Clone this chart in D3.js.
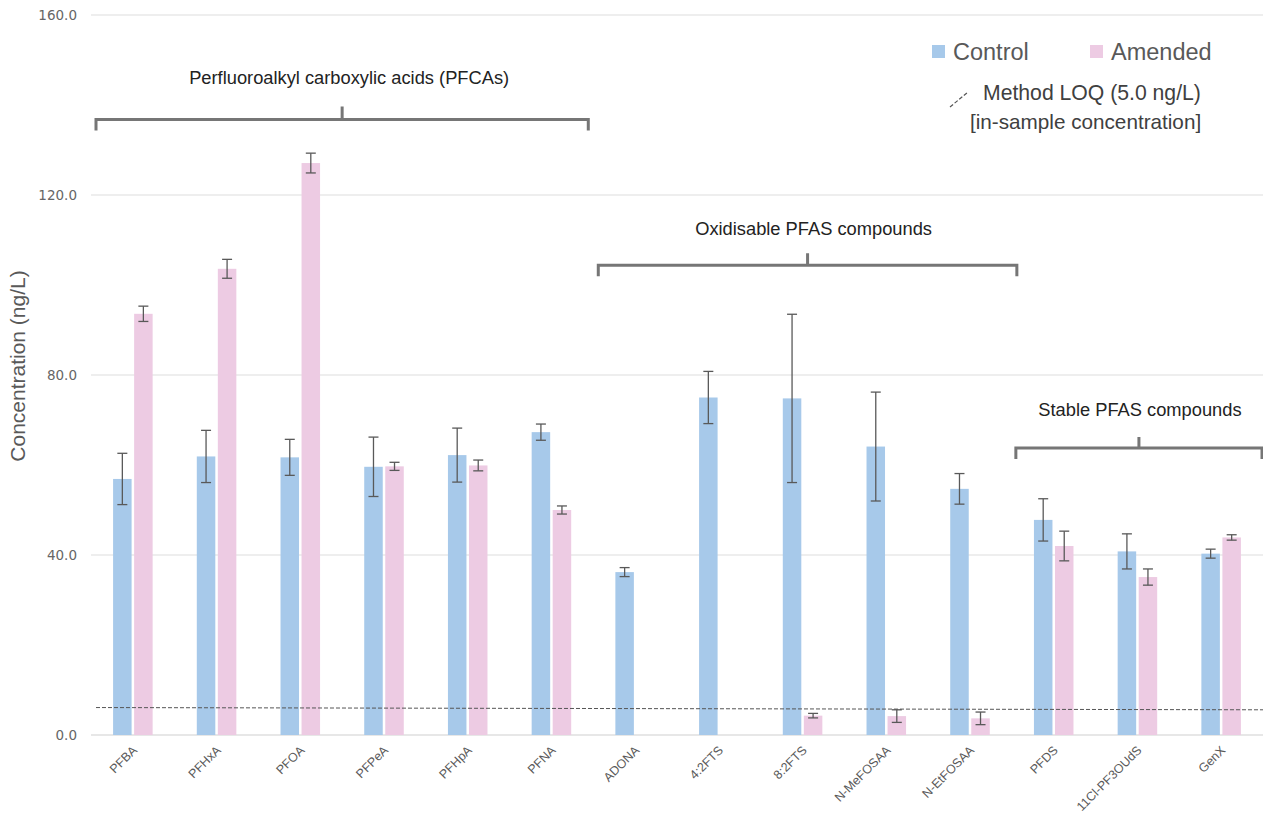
<!DOCTYPE html>
<html><head><meta charset="utf-8">
<script src="https://cdn.jsdelivr.net/npm/d3@7"></script>
<style>body{margin:0;background:#fff}svg{display:block}</style>
</head><body>
<script>
const categories = ["PFBA","PFHxA","PFOA","PFPeA","PFHpA","PFNA","ADONA","4:2FTS","8:2FTS","N-MeFOSAA","N-EtFOSAA","PFDS","11Cl-PF3OUdS","GenX"];
const controlValues = [56.9,61.9,61.7,59.6,62.2,67.3,36.2,75.0,74.8,64.1,54.7,47.8,40.8,40.3];
const controlErrors = [5.7,5.8,4.0,6.6,6.0,1.8,1.0,5.8,18.7,12.1,3.4,4.7,3.9,1.0];
const amendedValues = [93.6,103.6,127.1,59.7,59.9,50.0,null,null,4.3,4.2,3.7,42.0,35.1,43.9];
const amendedErrors = [1.7,2.1,2.2,0.9,1.2,0.9,null,null,0.5,1.4,1.4,3.3,1.8,0.6];
const yTicks = [0,40,80,120,160];
const loqValues = [6.1,5.6];
const seriesNames = ["Control","Amended"];
const groupLabels = ["Perfluoroalkyl carboxylic acids (PFCAs)","Oxidisable PFAS compounds","Stable PFAS compounds"];
const groupFirst = ["PFBA","ADONA","PFDS"];
const groupLast = ["PFNA","N-EtFOSAA","GenX"];
const groupLevels = [136.8,104.4,63.8];

const W=1263,H=821, mLeft=91, mRight=1263, mTop=15, mBottom=735;
const colors={Control:"#a7c9ea",Amended:"#edcbe3"};
const svg=d3.select("body").append("svg").attr("width",W).attr("height",H);
const x=d3.scaleBand().domain(categories).range([mLeft,mRight]);
const bw=x.bandwidth();
const xs=d3.scaleBand().domain(seriesNames).range([0,bw]).paddingInner(0.12).paddingOuter(1.05);
const y=d3.scaleLinear().domain([0,160]).range([mBottom,mTop]);
const font="'Liberation Sans', Arial, sans-serif";

// grid
svg.append("g").selectAll("line").data(yTicks).join("line")
  .attr("x1",mLeft).attr("x2",mRight).attr("y1",d=>y(d)).attr("y2",d=>y(d))
  .attr("stroke",d=>d===0?"#d0d0d0":"#dedede").attr("stroke-width",1.2);
svg.append("g").selectAll("text").data(yTicks).join("text")
  .attr("x",77).attr("y",d=>y(d)+5).attr("text-anchor","end")
  .attr("font-family","'DejaVu Sans', sans-serif").attr("font-size",13.5).attr("fill","#666").text(d=>d.toFixed(1));

svg.append("text").attr("transform",`translate(25,${y(82)}) rotate(-90)`)
  .attr("text-anchor","middle").attr("font-family",font).attr("font-size",21).attr("fill","#595959")
  .text("Concentration (ng/L)");

// x labels
svg.append("g").selectAll("text").data(categories).join("text")
  .attr("transform",d=>`translate(${x(d)+bw/2+5},${751}) rotate(-45)`)
  .attr("text-anchor","end").attr("font-family",font).attr("font-size",12.5).attr("fill","#595959").text(d=>d);

// bars
const data=[];
categories.forEach((c,i)=>{
  data.push({c,s:"Control",v:controlValues[i],e:controlErrors[i]});
  if(amendedValues[i]!=null) data.push({c,s:"Amended",v:amendedValues[i],e:amendedErrors[i]});
});
svg.append("g").selectAll("rect").data(data).join("rect")
  .attr("x",d=>x(d.c)+xs(d.s)).attr("width",xs.bandwidth())
  .attr("y",d=>y(d.v)).attr("height",d=>y(0)-y(d.v)).attr("fill",d=>colors[d.s]);

// error bars
const eg=svg.append("g").attr("stroke","#595959").attr("stroke-width",1.3);
data.forEach(d=>{
  const cx=x(d.c)+xs(d.s)+xs.bandwidth()/2;
  const y1=y(d.v+d.e), y2=y(d.v-d.e);
  eg.append("line").attr("x1",cx).attr("x2",cx).attr("y1",y1).attr("y2",y2);
  eg.append("line").attr("x1",cx-5).attr("x2",cx+5).attr("y1",y1).attr("y2",y1);
  eg.append("line").attr("x1",cx-5).attr("x2",cx+5).attr("y1",y2).attr("y2",y2);
});

// LOQ line
svg.append("line").attr("x1",mLeft+5).attr("x2",mRight).attr("y1",y(loqValues[0])).attr("y2",y(loqValues[1]))
  .attr("stroke","#555").attr("stroke-width",1).attr("stroke-dasharray","4,2");

// group brackets
const bg=svg.append("g");
const startPad=[5,5,4], endPad=[-5,5,-1], tickH=[13,12,11], labOff=[35,30,32], labShift=[7,6,1];
groupLabels.forEach((lab,i)=>{
  const x0=x(groupFirst[i])+startPad[i];
  const x1=x(groupLast[i])+bw+endPad[i];
  const xm=(x0+x1)/2, yl=y(groupLevels[i]);
  bg.append("path").attr("d",`M${x0},${yl+11}V${yl}H${x1}V${yl+11}M${xm},${yl}V${yl-tickH[i]}`)
    .attr("fill","none").attr("stroke","#767676").attr("stroke-width",3);
  bg.append("text").attr("x",xm+labShift[i]).attr("y",yl-labOff[i]).attr("text-anchor","middle")
    .attr("font-family",font).attr("font-size",18.3).attr("fill","#222").text(lab);
});

// legend
const lg=svg.append("g").attr("font-family",font).attr("fill","#595959");
[[932,"Control"],[1090,"Amended"]].forEach(([lx,n])=>{
  lg.append("rect").attr("x",lx).attr("y",45).attr("width",13).attr("height",13).attr("fill",colors[n]);
  lg.append("text").attr("x",lx+21).attr("y",60).attr("font-size",23.5).text(n);
});
lg.append("line").attr("x1",950).attr("y1",107).attr("x2",968).attr("y2",92)
  .attr("stroke","#555").attr("stroke-width",1.2).attr("stroke-dasharray","4,2");
lg.append("text").attr("x",983).attr("y",100).attr("font-size",21.2).attr("fill","#404040").text("Method LOQ (5.0 ng/L)");
lg.append("text").attr("x",970).attr("y",129).attr("font-size",20.7).attr("fill","#404040").text("[in-sample concentration]");
</script>
</body></html>
